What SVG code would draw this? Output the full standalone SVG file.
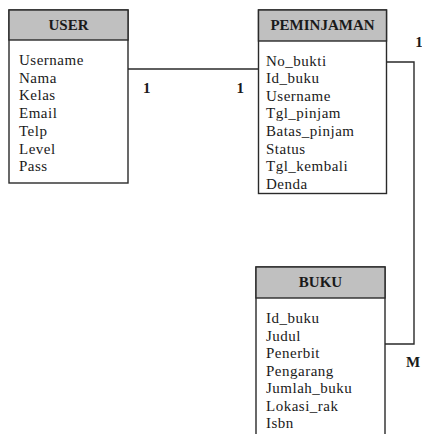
<svg xmlns="http://www.w3.org/2000/svg" width="422" height="434" viewBox="0 0 422 434">
  <style>
    .box { fill: #ffffff; stroke: #2a2a2a; stroke-width: 1.4; }
    .head { fill: #c0c0c0; stroke: #2a2a2a; stroke-width: 1.4; }
    .title { font-family: "Liberation Serif", "Times New Roman", serif; font-size: 15px; font-weight: bold; fill: #1a1a1a; text-anchor: middle; }
    .attr { font-family: "Liberation Serif", "Times New Roman", serif; font-size: 15px; fill: #1a1a1a; letter-spacing: 0.5px; }
    .card { font-family: "Liberation Serif", "Times New Roman", serif; font-size: 15px; font-weight: bold; fill: #1a1a1a; text-anchor: middle; }
    .link { fill: none; stroke: #2a2a2a; stroke-width: 1.4; }
  </style>
  <rect width="422" height="434" fill="#ffffff"/>

  <g id="connectors">
    <path class="link" d="M128,69 H258.5"/>
    <path class="link" d="M386.5,62 H414 V344 H385"/>
    <text class="card" x="146.7" y="92.5">1</text>
    <text class="card" x="240.3" y="92.5">1</text>
    <text class="card" x="419" y="46.5">1</text>
    <text class="card" x="413" y="367">M</text>
  </g>

  <g id="user">
    <rect class="box" x="9" y="10" width="119" height="173"/>
    <rect class="head" x="9" y="10" width="119" height="30"/>
    <text class="title" x="68.5" y="29.5">USER</text>
    <text class="attr" x="19" y="65">Username</text>
    <text class="attr" x="19" y="82.7">Nama</text>
    <text class="attr" x="19" y="100.4">Kelas</text>
    <text class="attr" x="19" y="118">Email</text>
    <text class="attr" x="19" y="135.8">Telp</text>
    <text class="attr" x="19" y="153.5">Level</text>
    <text class="attr" x="19" y="171">Pass</text>
  </g>

  <g id="peminjaman">
    <rect class="box" x="258.5" y="10" width="128" height="183.5"/>
    <rect class="head" x="258.5" y="10" width="128" height="31"/>
    <text class="title" x="322.5" y="29.5">PEMINJAMAN</text>
    <text class="attr" x="266" y="65.5">No_bukti</text>
    <text class="attr" x="266" y="83">Id_buku</text>
    <text class="attr" x="266" y="100.7">Username</text>
    <text class="attr" x="266" y="118.3">Tgl_pinjam</text>
    <text class="attr" x="266" y="136">Batas_pinjam</text>
    <text class="attr" x="266" y="153.5">Status</text>
    <text class="attr" x="266" y="171">Tgl_kembali</text>
    <text class="attr" x="266" y="188.7">Denda</text>
  </g>

  <g id="buku">
    <rect class="box" x="256" y="267" width="129" height="200"/>
    <rect class="head" x="256" y="267" width="129" height="31"/>
    <text class="title" x="320.5" y="287">BUKU</text>
    <text class="attr" x="266" y="323.3">Id_buku</text>
    <text class="attr" x="266" y="340.8">Judul</text>
    <text class="attr" x="266" y="358.3">Penerbit</text>
    <text class="attr" x="266" y="375.8">Pengarang</text>
    <text class="attr" x="266" y="393.3">Jumlah_buku</text>
    <text class="attr" x="266" y="410.8">Lokasi_rak</text>
    <text class="attr" x="266" y="428.3">Isbn</text>
  </g>
</svg>
